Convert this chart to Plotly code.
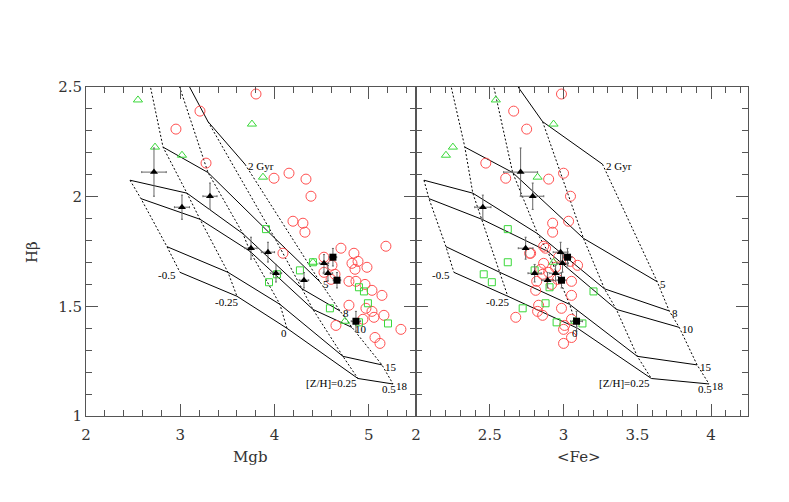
import plotly.graph_objects as go

W, H = 789, 502

# model grid: rows = ages, columns = [Z/H]
ages = [2, 5, 8, 10, 15, 18]
zh_labels = ["-0.5", "-0.25", "0", "[Z/H]=0.25", "0.5"]
nan = float("nan")
grid_hb = [
    [nan, 2.728, 2.728, 2.342, 2.148],
    [nan, 2.226, 2.110, 1.810, 1.612],
    [2.075, 2.016, 1.831, 1.580, 1.479],
    [1.991, 1.897, 1.751, 1.486, 1.404],
    [1.772, 1.655, 1.509, 1.272, 1.233],
    [1.655, 1.546, 1.400, 1.171, 1.146],
]
grid_mgb = [
    [nan, 2.573, 2.817, 3.294, 3.686],
    [nan, 2.817, 3.294, 4.004, 4.481],
    [2.467, 3.071, 3.665, 4.291, 4.694],
    [2.583, 3.209, 3.739, 4.407, 4.821],
    [2.859, 3.506, 4.057, 4.725, 5.139],
    [2.997, 3.601, 4.131, 4.884, 5.256],
]
grid_fe = [
    [nan, 2.162, 2.453, 2.858, 3.264],
    [nan, 2.331, 2.655, 3.135, 3.635],
    [2.054, 2.385, 2.824, 3.277, 3.716],
    [2.088, 2.446, 2.892, 3.358, 3.784],
    [2.203, 2.568, 3.041, 3.500, 3.905],
    [2.257, 2.622, 3.095, 3.595, 3.986],
]

# red open circles
red_hb = [2.468, 2.390, 2.308, 2.153, 2.107, 2.084, 2.080, 2.002, 1.888, 1.879,
          1.838, 1.774, 1.765, 1.742, 1.742, 1.724, 1.705, 1.696, 1.687, 1.678,
          1.669, 1.655, 1.646, 1.623, 1.614, 1.614, 1.600, 1.573, 1.550, 1.505,
          1.491, 1.477, 1.459, 1.450, 1.441, 1.413, 1.395, 1.358, 1.331]
red_mgb = [3.803, 3.209, 2.954, 3.273, 4.153, 3.994, 4.333, 4.386, 4.195, 4.301,
           4.322, 5.181, 4.704, 4.089, 4.842, 4.524, 4.885, 4.821, 4.609, 4.980,
           4.853, 4.524, 4.641, 4.599, 4.789, 4.863, 4.959, 5.033, 5.139, 4.789,
           4.969, 5.033, 5.160, 5.054, 4.937, 4.651, 5.340, 5.065, 5.118]
red_fe = [2.986, 2.662, 2.750, 2.473, 3.000, 2.608, 2.899, 3.047, 3.034, 2.926,
          2.926, 2.865, 2.878, 2.770, 2.777, 2.966, 3.047, 2.865, 3.095, 2.946,
          2.845, 2.899, 2.858, 2.959, 2.818, 3.054, 2.919, 2.811, 3.054, 2.831,
          2.986, 2.824, 2.858, 2.676, 3.054, 3.007, 3.000, 3.054, 3.000]

# green open triangles
tri_hb = [2.441, 2.331, 2.226, 2.189, 2.089, 1.701, 1.432]
tri_mgb = [2.551, 3.760, 2.732, 3.018, 3.877, 4.407, 4.747]
tri_fe = [2.541, 2.932, 2.250, 2.203, 2.824, 2.932, 3.080]

# green open squares
sq_hb = [1.852, 1.701, 1.664, 1.646, 1.610, 1.587, 1.568, 1.514, 1.491, 1.427, 1.422]
sq_mgb = [3.909, 4.407, 4.269, 4.025, 3.941, 4.895, 4.948, 4.990, 4.587, 4.895, 5.203]
sq_fe = [2.622, 2.622, 2.804, 2.459, 2.514, 2.905, 3.203, 2.878, 2.723, 2.953, 3.128]

# black filled triangles with errors
bt_hb = [2.112, 2.002, 1.952, 1.765, 1.747, 1.696, 1.651, 1.651, 1.619]
bt_hb_err = [0.11, 0.06, 0.055, 0.05, 0.045, 0.04, 0.04, 0.035, 0.035]
bt_mgb = [2.721, 3.315, 3.018, 3.750, 3.930, 4.524, 4.015, 4.566, 4.312]
bt_mgb_err = [0.13, 0.075, 0.08, 0.065, 0.07, 0.05, 0.06, 0.05, 0.05]
bt_fe = [2.709, 2.791, 2.453, 2.743, 2.980, 2.993, 2.804, 2.946, 2.892]
bt_fe_err = [0.115, 0.075, 0.055, 0.05, 0.05, 0.04, 0.045, 0.04, 0.04]

# black filled squares with errors
bs_hb = [1.724, 1.619, 1.432]
bs_hb_err = [0.04, 0.035, 0.045]
bs_mgb = [4.619, 4.662, 4.863]
bs_mgb_err = [0.04, 0.04, 0.05]
bs_fe = [3.027, 2.986, 3.088]
bs_fe_err = [0.03, 0.03, 0.04]

RED = "#ff5050"
GREEN = "#3ad83a"
ERR = "#666666"
AX = "#555555"
LABEL_FONT = dict(family="Liberation Serif", size=11, color="black")
TICK_FONT = dict(family="DejaVu Serif", size=15, color="#333333")

fig = go.Figure()

panels = [("x", "y", grid_mgb, red_mgb, tri_mgb, sq_mgb, bt_mgb, bt_mgb_err, bs_mgb, bs_mgb_err),
          ("x2", "y2", grid_fe, red_fe, tri_fe, sq_fe, bt_fe, bt_fe_err, bs_fe, bs_fe_err)]

for xa, ya, gx, rx, tx, sx, btx, btxe, bsx, bsxe in panels:
    # age lines (solid)
    for i in range(len(ages)):
        fig.add_trace(go.Scatter(x=gx[i], y=grid_hb[i], mode="lines", xaxis=xa, yaxis=ya,
                                 line=dict(color="black", width=1)))
    # metallicity lines (dotted)
    for j in range(len(zh_labels)):
        fig.add_trace(go.Scatter(x=[r[j] for r in gx], y=[r[j] for r in grid_hb],
                                 mode="lines", xaxis=xa, yaxis=ya,
                                 line=dict(color="black", width=1, dash="2px,2px")))
    fig.add_trace(go.Scatter(x=rx, y=red_hb, mode="markers", xaxis=xa, yaxis=ya,
                             marker=dict(symbol="circle-open", size=10, color=RED,
                                         line=dict(width=1, color=RED))))
    fig.add_trace(go.Scatter(x=sx, y=sq_hb, mode="markers", xaxis=xa, yaxis=ya,
                             marker=dict(symbol="square-open", size=7, color=GREEN,
                                         line=dict(width=1, color=GREEN))))
    fig.add_trace(go.Scatter(x=tx, y=tri_hb, mode="markers", xaxis=xa, yaxis=ya,
                             marker=dict(symbol="triangle-up-open", size=8, color=GREEN,
                                         line=dict(width=1, color=GREEN))))
    fig.add_trace(go.Scatter(
        x=btx, y=bt_hb, mode="markers", xaxis=xa, yaxis=ya,
        error_x=dict(type="data", array=btxe, color=ERR, thickness=1, width=1),
        error_y=dict(type="data", array=bt_hb_err, color=ERR, thickness=1, width=1),
        marker=dict(symbol="triangle-up", size=7, color="black")))
    fig.add_trace(go.Scatter(
        x=bsx, y=bs_hb, mode="markers", xaxis=xa, yaxis=ya,
        error_x=dict(type="data", array=bsxe, color=ERR, thickness=1, width=1),
        error_y=dict(type="data", array=bs_hb_err, color=ERR, thickness=1, width=1),
        marker=dict(symbol="square", size=7, color="black")))

    # age labels at the metal-rich end
    for i, age in enumerate(ages):
        fig.add_annotation(x=gx[i][-1], y=grid_hb[i][-1], xref=xa, yref=ya,
                           text="2 Gyr" if i == 0 else str(age), showarrow=False,
                           xanchor="left", yanchor="middle", xshift=1, yshift=-2,
                           font=LABEL_FONT)
    # metallicity labels along the oldest line
    old = len(ages) - 1
    shifts = [("right", -2, -3), ("right", 3, -6), ("center", -3, -5),
              ("right", 1, -5), ("center", -4, -5)]
    for j, lab in enumerate(zh_labels):
        anchor, dx, dy = shifts[j]
        fig.add_annotation(x=gx[old][j], y=grid_hb[old][j], xref=xa, yref=ya,
                           text=lab, showarrow=False, xanchor=anchor, yanchor="middle",
                           xshift=dx, yshift=dy, font=LABEL_FONT)

# the page puts the figure 8px in from the top-left corner
OFF = 8
ML, MT = 86 - OFF, 87 - OFF
MR, MB = W - (748 - OFF), H - (416 - OFF)
PW, PH = W - ML - MR, H - MT - MB
split = (416 - 86) / (748 - 86)


def paper(sx, sy):
    """screen pixel -> paper coords"""
    return (sx - OFF - ML) / PW, 1 - (sy - OFF - MT) / PH


axis_common = dict(showgrid=False, zeroline=False, showline=True, linecolor=AX,
                   linewidth=1, ticks="inside", ticklen=12, tickwidth=1, tickcolor=AX,
                   mirror="allticks", tickfont=TICK_FONT)

fig.update_layout(
    width=W, height=H,
    margin=dict(l=ML, r=MR, t=MT, b=MB, pad=0, autoexpand=False),
    paper_bgcolor="white", plot_bgcolor="white",
    showlegend=False,
    xaxis=dict(domain=[0, split], range=[2, 5.5], dtick=1, anchor="y", ticklabelstandoff=5,
               minor=dict(dtick=0.2, ticks="inside", ticklen=6, tickcolor=AX),
               **axis_common),
    xaxis2=dict(domain=[split, 1], range=[2, 4.25], dtick=0.5, anchor="y2", ticklabelstandoff=5,
                minor=dict(dtick=0.1, ticks="inside", ticklen=6, tickcolor=AX),
                **axis_common),
    yaxis=dict(domain=[0, 1], range=[1, 2.5], dtick=0.5, anchor="x",
               minor=dict(dtick=0.1, ticks="inside", ticklen=6, tickcolor=AX),
               **axis_common),
    yaxis2=dict(domain=[0, 1], range=[1, 2.5], dtick=0.5, anchor="x2", matches="y",
                showticklabels=False,
                minor=dict(dtick=0.1, ticks="inside", ticklen=6, tickcolor=AX),
                **axis_common),
)

for txt, sx, sy, ang in [("Hβ", 32, 252, -90), ("Mgb", 250, 457, 0), ("&lt;Fe&gt;", 579, 457, 0)]:
    px, py = paper(sx, sy)
    fig.add_annotation(text=txt, x=px, y=py, xref="paper", yref="paper",
                       xanchor="center", yanchor="middle", showarrow=False,
                       textangle=ang, font=TICK_FONT)

fig.write_html("out.html")
